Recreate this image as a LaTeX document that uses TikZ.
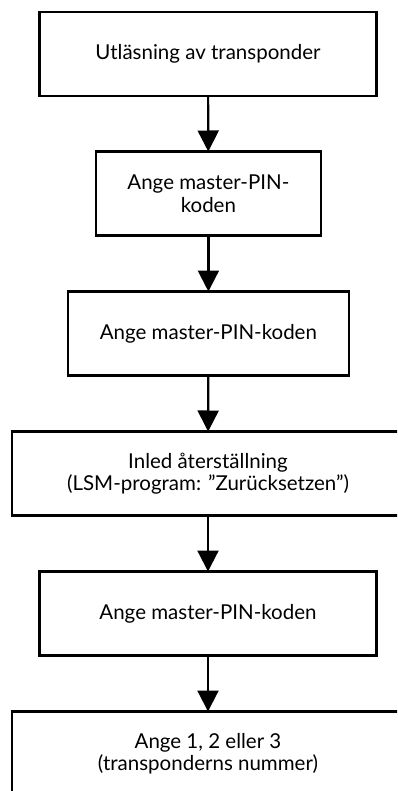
\documentclass[tikz,border=0pt]{standalone}
\usepackage{fontspec}
\setmainfont{Lato}
\usetikzlibrary{arrows.meta}
\begin{document}
\begin{tikzpicture}[x=1pt,y=-1pt,
  stepbox/.style={draw=black, line width=2.2pt, fill=white, inner sep=0pt, outer sep=0pt,
    minimum height=84pt, align=center, font=\fontsize{20.5}{22.5}\selectfont},
  arr/.style={line width=2.2pt, -{Triangle[width=21pt,length=21pt]}}]
\useasboundingbox (0,0) rectangle (397,791);
\clip (0,0) rectangle (397,791);
\node[stepbox, minimum width=337pt] (b1) at (208,54) {Utläsning av transponder};
\node[stepbox, minimum width=224.7pt] (b2) at (208.4,193.5) {Ange master-PIN-\\koden};
\node[stepbox, minimum width=280.7pt] (b3) at (208.4,333.5) {Ange master-PIN-koden};
\node[stepbox, minimum width=392pt] (b4) at (208,473.5) {Inled återställning\\(LSM-program: ”Zurücksetzen”)};
\node[stepbox, minimum width=337pt] (b5) at (208,613.5) {Ange master-PIN-koden};
\node[stepbox, minimum width=392pt] (b6) at (208,753.5) {Ange 1, 2 eller 3\\(transponderns nummer)};
\draw[arr] (b1) -- (b2);
\draw[arr] (b2) -- (b3);
\draw[arr] (b3) -- (b4);
\draw[arr] (b4) -- (b5);
\draw[arr] (b5) -- (b6);
\end{tikzpicture}
\end{document}
